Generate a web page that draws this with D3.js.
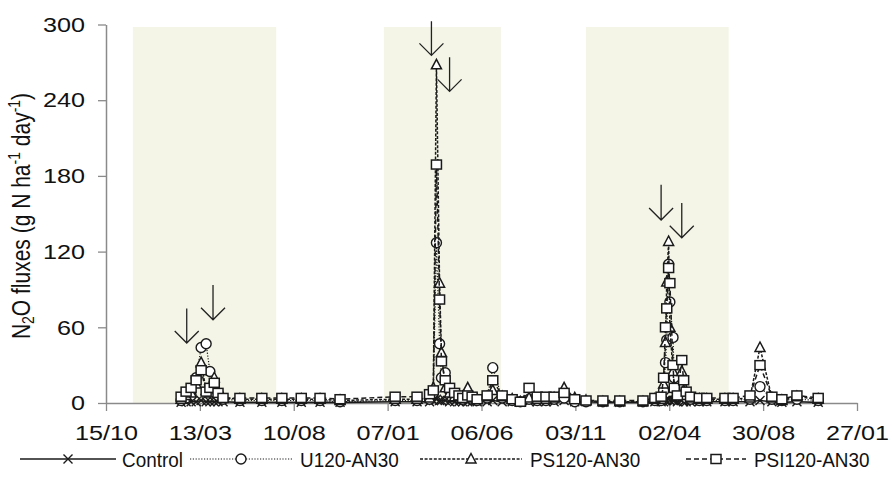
<!DOCTYPE html>
<html>
<head>
<meta charset="utf-8">
<script src="https://cdn.jsdelivr.net/npm/d3@7"></script>
<style>
  body { margin: 0; background: #fff; }
  svg { display: block; }
  text { font-family: "Liberation Sans", Arial, sans-serif; fill: #111; }
</style>
</head>
<body>
<svg id="chart" width="892" height="490"></svg>
<script>
// Sampling dates shared by all treatments
const sampleDates = [
  "2012-02-12","2012-02-20","2012-02-28","2012-03-07","2012-03-15","2012-03-23","2012-03-29","2012-04-05",
  "2012-04-11","2012-04-19","2012-05-16","2012-06-20","2012-07-22","2012-08-22","2012-09-21","2012-10-23",
  "2013-01-19","2013-02-23","2013-03-15","2013-03-21","2013-03-26","2013-03-31","2013-04-03","2013-04-09",
  "2013-04-16","2013-04-24","2013-05-01","2013-05-07","2013-05-15","2013-05-22","2013-05-30","2013-06-15",
  "2013-06-24","2013-07-09","2013-07-25","2013-08-07","2013-08-21","2013-09-03","2013-09-17","2013-09-30",
  "2013-10-16","2013-11-02","2013-11-20","2013-12-17",
  "2014-01-13","2014-02-19","2014-03-10","2014-03-20","2014-03-24","2014-03-27","2014-03-29","2014-04-01",
  "2014-04-03","2014-04-08","2014-04-10","2014-04-15","2014-04-22","2014-04-25","2014-04-29","2014-05-06",
  "2014-05-20","2014-06-01","2014-06-30","2014-07-13","2014-08-09","2014-08-25","2014-09-13","2014-09-29",
  "2014-10-23","2014-11-26"
];

// N2O fluxes, g N ha-1 day-1
const control = [
  0.5,1,1,1,2,1,1,1,1,1,0.5,0.5,0.5,0.5,0.5,0.5,
  1,1,1,2,3,2,2,2,1,1,1,1,1,1,1,1,2,1,1,0.5,1,1,1,1,2,1,1,0.5,
  0.5,0.5,1,1,1,2,2,3,2,2,2,1,2,1,1,1,1,1,1,1,1,2,1,0.5,1,0.5
];
const u120 = [
  2,4,6,20,44,47,25,15,6,3,2,2,2,2,2,1,
  2,2,3,8,127,47,20,24,10,6,4,3,5,3,2,4,28,4,2,1,3,2,2,3,4,1,1,1,
  1,1,2,2,10,32,50,110,80,52,20,8,12,6,4,3,2,2,2,2,3,13,3,2,3,2
];
const ps120 = [
  3,6,8,15,32,10,8,20,8,4,3,3,3,3,3,2,
  3,3,4,12,268,95,40,12,8,5,6,5,12,4,3,5,10,5,3,1,4,3,3,4,12,4,2,1,
  1,1,3,3,15,48,96,128,60,25,12,6,25,10,6,4,3,3,3,3,4,44,4,2,5,3
];
const psi120 = [
  5,9,12,18,26,9,12,16,8,4,4,4,4,4,4,3,
  5,5,7,10,189,82,33,18,12,8,6,4,6,5,3,6,18,6,3,1,12,5,5,5,8,3,2,2,
  2,2,4,5,20,60,75,107,95,30,12,6,34,18,9,5,4,4,4,4,6,30,5,3,6,4
];

const seriesNames = ["Control", "U120-AN30", "PS120-AN30", "PSI120-AN30"];

// Axis ticks
const xTickDates = ["2011-10-15","2012-03-13","2012-08-10","2013-01-07","2013-06-06",
                    "2013-11-03","2014-04-02","2014-08-30","2015-01-27"];
const yTicks = [0, 60, 120, 180, 240, 300];

// Crop growing seasons (shaded)
const seasonStarts = ["2011-11-27", "2013-01-01", "2013-11-20"];
const seasonEnds   = ["2012-07-13", "2013-07-07", "2014-07-06"];
const seasonTop = 298;

// Fertiliser applications (arrows): date, shaft top and tip in flux units
const fertDates = ["2012-02-21","2012-04-03","2013-03-18","2013-04-16","2014-03-20","2014-04-22"];
const fertTop   = [75, 93.5, 302.5, 274, 173, 158.5];
const fertTip   = [47.5, 66, 275.5, 247, 145, 131];

const parse = d3.utcParse("%Y-%m-%d");
const fmtTick = d3.utcFormat("%d/%m");
const SX = 1.2;      // horizontal stretch of axis labels

const svg = d3.select("#chart");
const x = d3.scaleUtc()
  .domain([parse(xTickDates[0]), parse(xTickDates[xTickDates.length - 1])])
  .range([106, 857]);
const y = d3.scaleLinear().domain([0, 300]).range([403, 24.5]);

// seasons
svg.append("g").selectAll("rect")
  .data(seasonStarts.map((s, i) => [parse(s), parse(seasonEnds[i])]))
  .join("rect")
  .attr("x", d => x(d[0]))
  .attr("width", d => x(d[1]) - x(d[0]))
  .attr("y", y(seasonTop))
  .attr("height", y(0) - y(seasonTop))
  .attr("fill", "#f4f5e7");

// axes
const axisColor = "#8a8a8a";
const gx = svg.append("g").attr("transform", `translate(0,${y(0)})`)
  .call(d3.axisBottom(x).tickValues(xTickDates.map(parse)).tickFormat(fmtTick)
        .tickSize(8).tickSizeOuter(0).tickPadding(14));
gx.select(".domain").attr("stroke", axisColor).attr("stroke-width", 1.5);
gx.selectAll(".tick line").attr("stroke", axisColor).attr("stroke-width", 1.3);
gx.selectAll(".tick text").attr("font-size", 21).attr("fill", "#111")
  .attr("font-family", '"Liberation Sans", Arial, sans-serif')
  .attr("transform", `scale(${SX},1)`);

const gy = svg.append("g").attr("transform", `translate(${x.range()[0]},0)`)
  .call(d3.axisLeft(y).tickValues(yTicks).tickSize(8).tickSizeOuter(0));
gy.select(".domain").attr("stroke", axisColor).attr("stroke-width", 1.5);
gy.selectAll(".tick line").attr("stroke", axisColor).attr("stroke-width", 1.3);
gy.selectAll(".tick text").attr("font-size", 21).attr("fill", "#111")
  .attr("font-family", '"Liberation Sans", Arial, sans-serif')
  .attr("x", -21 / SX).attr("transform", `scale(${SX},1)`);

// y-axis title
const title = svg.append("text")
  .attr("transform", `translate(30,216) scale(${SX},1) rotate(-90)`)
  .attr("text-anchor", "middle").attr("font-size", 21);
title.append("tspan").text("N");
title.append("tspan").text("2").attr("font-size", 14).attr("baseline-shift", "-4");
title.append("tspan").text("O fluxes (g N ha");
title.append("tspan").text("-1").attr("font-size", 14).attr("baseline-shift", "8");
title.append("tspan").text(" day");
title.append("tspan").text("-1").attr("font-size", 14).attr("baseline-shift", "8");
title.append("tspan").text(")");

// series styles
const styles = [
  { dash: null,      width: 1.6, marker: "cross" },
  { dash: "1.2,1.6", width: 1.2, marker: "circle" },
  { dash: "3,1.6",   width: 1.5, marker: "triangle" },
  { dash: "5,3",     width: 1.5, marker: "square" }
];
const ink = "#1a1a1a";

function drawMarker(g, type, cx, cy) {
  if (type === "cross") {
    const r = 4.5;
    g.append("path").attr("d", `M${cx - r},${cy - r}L${cx + r},${cy + r}M${cx - r},${cy + r}L${cx + r},${cy - r}`)
      .attr("stroke", ink).attr("stroke-width", 1.4).attr("fill", "none");
  } else if (type === "circle") {
    g.append("ellipse").attr("cx", cx).attr("cy", cy).attr("rx", 5).attr("ry", 5)
      .attr("fill", "#fff").attr("stroke", ink).attr("stroke-width", 1.4);
  } else if (type === "triangle") {
    g.append("path").attr("d", `M${cx},${cy - 5.5}L${cx + 5},${cy + 4}L${cx - 5},${cy + 4}Z`)
      .attr("fill", "#fff").attr("stroke", ink).attr("stroke-width", 1.5);
  } else {
    g.append("rect").attr("x", cx - 5).attr("y", cy - 4.5).attr("width", 10).attr("height", 9)
      .attr("fill", "#fff").attr("stroke", ink).attr("stroke-width", 1.5);
  }
}

const allSeries = [control, u120, ps120, psi120];
const dates = sampleDates.map(parse);
const line = d3.line().x(d => x(d[0])).y(d => y(d[1]));

allSeries.forEach((vals, i) => {
  const st = styles[i];
  const pts = dates.map((d, j) => [d, vals[j]]);
  const g = svg.append("g");
  g.append("path").attr("d", line(pts)).attr("fill", "none")
    .attr("stroke", ink).attr("stroke-width", st.width)
    .attr("stroke-dasharray", st.dash);
  pts.forEach(p => drawMarker(g, st.marker, x(p[0]), y(p[1])));
});

// fertiliser arrows
const ga = svg.append("g").attr("stroke", "#222").attr("stroke-width", 1.3).attr("fill", "none");
fertDates.forEach((d, i) => {
  const ax = x(parse(d)), y0 = y(fertTop[i]), y1 = y(fertTip[i]);
  ga.append("path").attr("d", `M${ax},${y0}L${ax},${y1}M${ax - 12},${y1 - 12}L${ax},${y1}L${ax + 12},${y1 - 12}`);
});

// legend
const legY = 459;
const legendItems = [
  { x0: 20,  x1: 116, tx: 122 },
  { x0: 190, x1: 292, tx: 300 },
  { x0: 420, x1: 522, tx: 530 },
  { x0: 686, x1: 746, tx: 754 }
];
legendItems.forEach((it, i) => {
  const st = styles[i];
  const g = svg.append("g");
  g.append("line").attr("x1", it.x0).attr("x2", it.x1).attr("y1", legY).attr("y2", legY)
    .attr("stroke", ink).attr("stroke-width", st.width).attr("stroke-dasharray", st.dash);
  drawMarker(g, st.marker, (it.x0 + it.x1) / 2, legY);
  g.append("text").attr("transform", `translate(${it.tx},${legY + 7.5}) scale(0.9,1)`)
    .attr("font-size", 21).text(seriesNames[i]);
});
</script>
</body>
</html>
